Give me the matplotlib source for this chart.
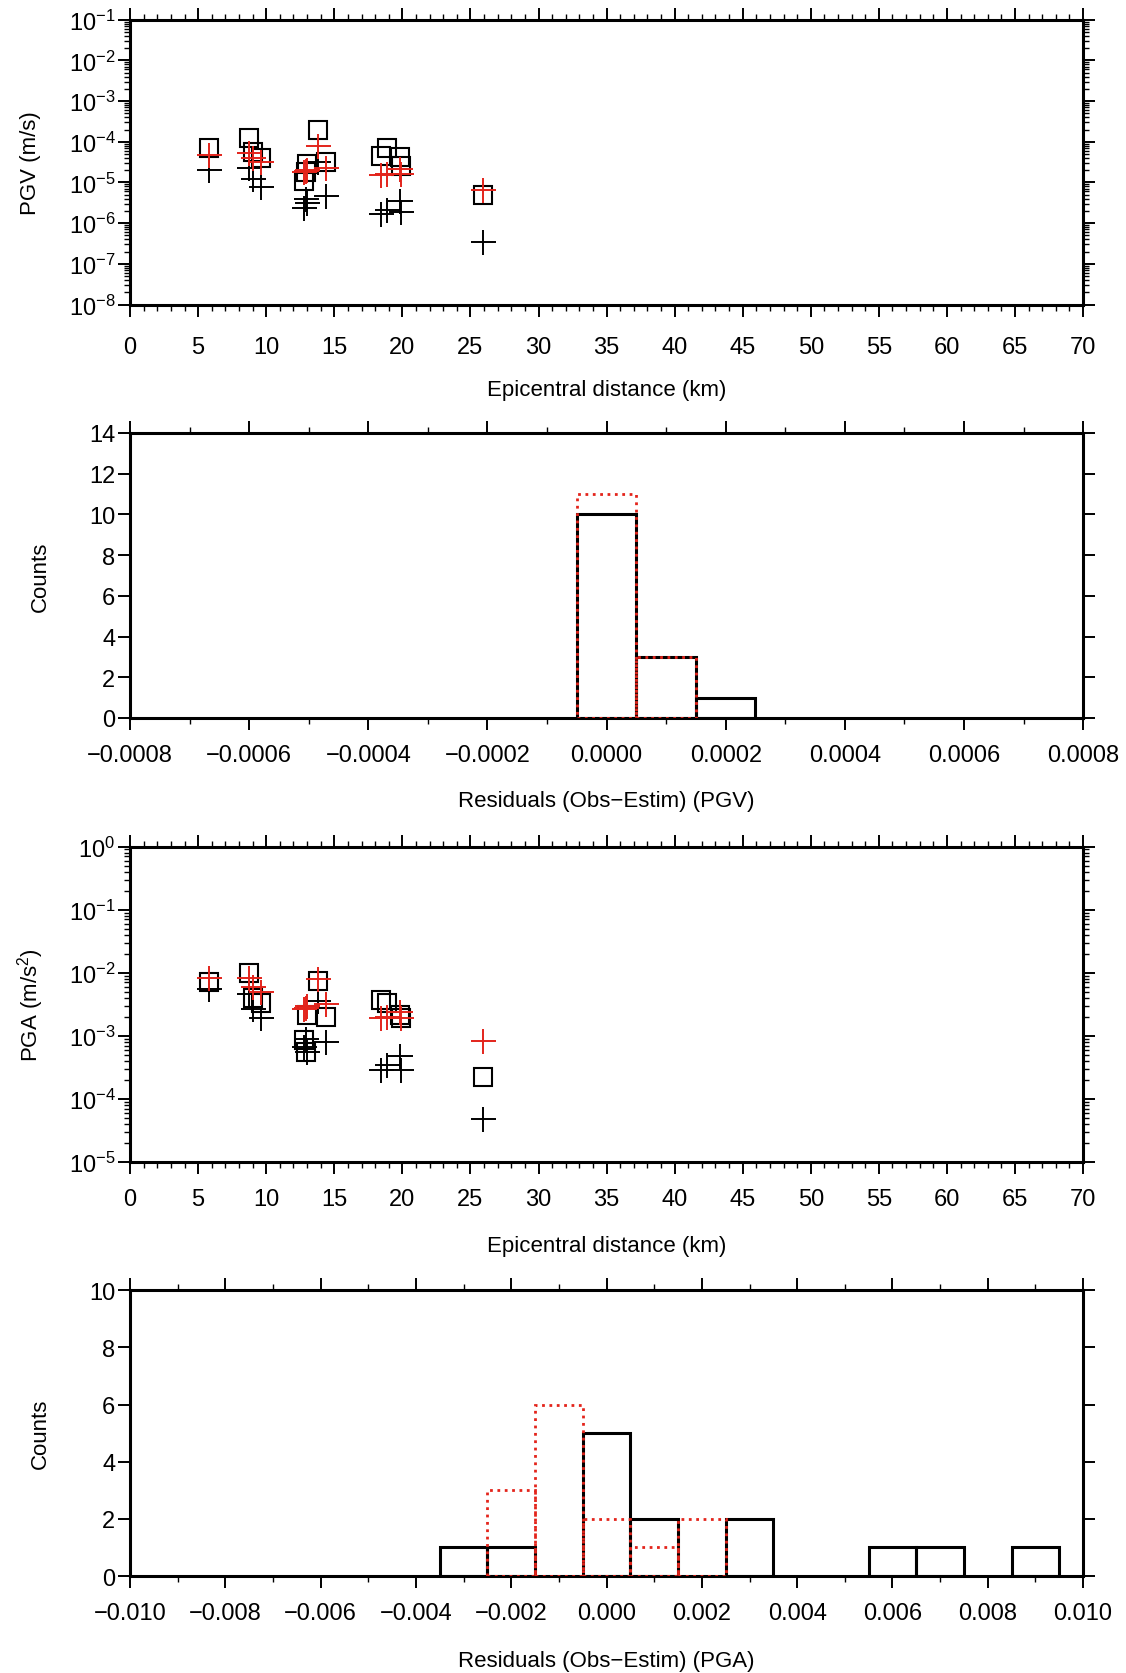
import matplotlib
matplotlib.use('Agg')
import matplotlib.pyplot as plt
import numpy as np
from matplotlib.ticker import MultipleLocator, LogLocator, FuncFormatter, NullFormatter

plt.rcParams['font.family'] = ['Liberation Sans', 'DejaVu Sans']
plt.rcParams['mathtext.fontset'] = 'custom'
plt.rcParams['mathtext.rm'] = 'Liberation Sans'
plt.rcParams['mathtext.it'] = 'Liberation Sans:italic'

# station epicentral distances (km)
dist = [5.8, 8.7, 9.0, 9.6, 12.8, 12.9, 13.0, 13.8, 14.4, 18.4, 18.9, 19.8, 19.9, 25.9]

# PGV (m/s): observed, estimate A (red), estimate B (black)
pgv_obs = [6.9e-5, 1.27e-4, 5.6e-5, 4.1e-5, 1.1e-5, 1.8e-5, 2.8e-5, 2.0e-4, 3.2e-5,
           4.5e-5, 7.2e-5, 4.3e-5, 2.6e-5, 4.9e-6]
pgv_est_a = [4.8e-5, 5.4e-5, 4.1e-5, 3.1e-5, 1.8e-5, 1.9e-5, 2.0e-5, 7.9e-5, 2.3e-5,
             1.5e-5, 1.6e-5, 2.1e-5, 1.6e-5, 6.6e-6]
pgv_est_b = [2.0e-5, 2.3e-5, 1.2e-5, 7.9e-6, 2.3e-6, 3.9e-6, 3.1e-6, 3.2e-5, 4.6e-6,
             1.7e-6, 2.1e-6, 3.5e-6, 1.9e-6, 3.5e-7]

# PGA (m/s^2): observed, estimate A (red), estimate B (black)
pga_obs = [7.1e-3, 1.0e-2, 4.0e-3, 3.3e-3, 8.7e-4, 5.5e-4, 2.1e-3, 7.5e-3, 1.96e-3,
           3.7e-3, 3.3e-3, 2.1e-3, 1.9e-3, 2.2e-4]
pga_est_a = [8.3e-3, 8.1e-3, 5.9e-3, 4.9e-3, 2.7e-3, 2.8e-3, 3.0e-3, 8.0e-3, 3.2e-3,
             1.9e-3, 2.0e-3, 2.4e-3, 1.9e-3, 8.4e-4]
pga_est_b = [5.5e-3, 4.6e-3, 2.7e-3, 1.9e-3, 6.6e-4, 8.9e-4, 5.5e-4, 3.6e-3, 8.1e-4,
             2.9e-4, 3.4e-4, 4.7e-4, 2.9e-4, 4.8e-5]

# residual histograms (bin centres and counts)
pgv_bins = [0.0, 0.0001, 0.0002]
pgv_cnt_b = [10, 3, 1]
pgv_cnt_a = [11, 3, 0]

pga_bins = [-0.003, -0.002, -0.001, 0.0, 0.001, 0.002, 0.003, 0.004, 0.005, 0.006, 0.007, 0.008, 0.009]
pga_cnt_b = [1, 1, 0, 5, 2, 0, 2, 0, 0, 1, 1, 0, 1]
pga_cnt_a = [0, 3, 6, 2, 1, 2, 0, 0, 0, 0, 0, 0, 0]

RED = '#e3241b'
FS = 16      # axis labels
TFS = 17     # tick labels


def frame(ax, xpad=10):
    for s in ax.spines.values():
        s.set_linewidth(2.2)
    ax.tick_params(which='both', direction='out', top=True, right=True,
                   labelsize=TFS, colors='black')
    ax.tick_params(which='major', length=8.5, width=1.4)
    ax.tick_params(which='minor', length=4.5, width=1.0)
    ax.tick_params(axis='x', which='both', pad=xpad)
    ax.tick_params(axis='y', which='both', pad=2)


def num_fmt(dec):
    def f(v, pos):
        if abs(v) < 1e-12:
            v = 0.0
        s = f'{abs(v):.{dec}f}'
        return ('\u2212' + s) if v < 0 else s
    return FuncFormatter(f)


def scatter_panel(ax, obs, est_a, est_b, ylo, yhi, ylabel, xlab_y, xpad):
    ax.plot(dist, obs, 's', mfc='none', mec='black', ms=13.5, mew=1.5, zorder=3)
    ax.plot(dist, est_b, '+', color='black', ms=18, mew=1.4, zorder=4)
    ax.plot(dist, est_a, '+', color=RED, ms=18, mew=1.4, zorder=5)
    ax.set_yscale('log')
    ax.set_ylim(ylo, yhi)
    ax.set_xlim(0, 70)
    ax.xaxis.set_major_locator(MultipleLocator(5))
    ax.xaxis.set_minor_locator(MultipleLocator(1))
    ax.yaxis.set_major_locator(LogLocator(base=10, numticks=20))
    ax.yaxis.set_minor_locator(LogLocator(base=10, subs=np.arange(2, 10), numticks=20))
    ax.yaxis.set_minor_formatter(NullFormatter())
    frame(ax, xpad)
    ax.set_xlabel('Epicentral distance (km)', fontsize=FS)
    ax.xaxis.set_label_coords(0.5, xlab_y)
    ax.xaxis.label.set_va('center')
    ax.set_ylabel(ylabel, fontsize=FS)
    ax.yaxis.set_label_coords(-0.104, 0.5)
    ax.yaxis.label.set_va('center')


def hist_panel(ax, centres, cnt_b, cnt_a, width, xlim, ymax, dec, xlabel, xlab_y):
    c = np.array(centres)
    b = np.array(cnt_b)
    a = np.array(cnt_a)
    ax.bar(c[b > 0], b[b > 0], width=width, fill=False, edgecolor='black',
           linewidth=2.2, zorder=3)
    ax.bar(c[a > 0], a[a > 0], width=width, fill=False, edgecolor=RED,
           linewidth=2.0, linestyle=':', zorder=4)
    ax.set_xlim(-xlim, xlim)
    ax.set_ylim(0, ymax)
    ax.xaxis.set_major_locator(MultipleLocator(2 * width))
    ax.xaxis.set_minor_locator(MultipleLocator(width))
    ax.xaxis.set_major_formatter(num_fmt(dec))
    ax.yaxis.set_major_locator(MultipleLocator(2))
    frame(ax, 10)
    ax.set_xlabel(xlabel, fontsize=FS)
    ax.xaxis.set_label_coords(0.5, xlab_y)
    ax.xaxis.label.set_va('center')
    ax.set_ylabel('Counts', fontsize=FS)
    ax.yaxis.set_label_coords(-0.094, 0.5)
    ax.yaxis.label.set_va('center')


fig = plt.figure(figsize=(11.26, 16.74), dpi=100)

ax1 = fig.add_axes([0.1155, 0.8175, 0.8464, 0.1701])
scatter_panel(ax1, pgv_obs, pgv_est_a, pgv_est_b, 1e-8, 1e-1, 'PGV (m/s)', -0.297, 14)

ax2 = fig.add_axes([0.1155, 0.5705, 0.8464, 0.1703])
hist_panel(ax2, pgv_bins, pgv_cnt_b, pgv_cnt_a, 0.0001, 0.0008, 14, 4,
           'Residuals (Obs\u2212Estim) (PGV)', -0.291)

ax3 = fig.add_axes([0.1155, 0.3053, 0.8464, 0.1884])
scatter_panel(ax3, pga_obs, pga_est_a, pga_est_b, 1e-5, 1e0, 'PGA (m/s$^2$)', -0.266, 10)

ax4 = fig.add_axes([0.1155, 0.0579, 0.8464, 0.1708])
hist_panel(ax4, pga_bins, pga_cnt_b, pga_cnt_a, 0.001, 0.010, 10, 3,
           'Residuals (Obs\u2212Estim) (PGA)', -0.294)

fig.savefig('out.png', dpi=100)
